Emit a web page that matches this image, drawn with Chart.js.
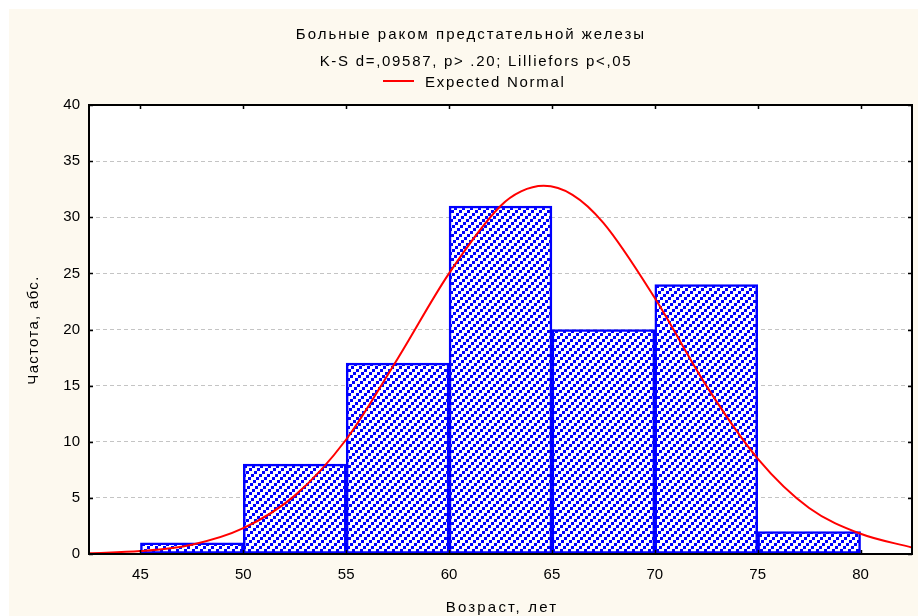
<!DOCTYPE html>
<html><head><meta charset="utf-8">
<script src="https://cdn.jsdelivr.net/npm/chart.js@4"></script>
<style>html,body{margin:0;padding:0;background:#fff}#c{display:block}</style>
</head><body>
<canvas id="c" width="918" height="616"></canvas>
<script>
// ---- data ----
const titleLines = ['Больные раком предстательной железы', 'K-S d=,09587, p> .20; Lilliefors p<,05'];
const legendLabel = 'Expected Normal';
const xTitle = 'Возраст, лет';
const yTitle = 'Частота, абс.';
const binCenters = [47.5, 52.5, 57.5, 62.5, 67.5, 72.5, 77.5];
const counts = [1, 8, 17, 31, 20, 24, 2];
const curveX = [42.5, 45, 47.5, 50, 52.5, 55, 57.5, 60, 62.5, 63.5, 64.6, 66, 67.5, 70, 72.5, 75, 77.5, 80, 82.5];
const curveY = [0.07, 0.26, 0.83, 2.3, 5.2, 10.2, 17.4, 25.0, 31.0, 32.3, 32.8, 32.0, 29.5, 22.8, 15.0, 8.5, 4.1, 1.8, 0.58];
const xTicks = [45, 50, 55, 60, 65, 70, 75, 80];
const yTicks = [0, 5, 10, 15, 20, 25, 30, 35, 40];

const FONT = '"Liberation Sans", Arial, sans-serif';

function makePattern() {
  const N = 24;
  const p = document.createElement('canvas');
  p.width = N; p.height = N;
  const g = p.getContext('2d');
  g.fillStyle = '#ffffff'; g.fillRect(0, 0, N, N);
  g.fillStyle = '#0000ff';
  for (let o = 0; o < N; o += 8) {
    for (let k = 0; k < N / 3; k++) {
      const x = (o + 3 * k) % N;
      const y = ((N - 3 - 3 * k) % N + N) % N;
      g.fillRect(x, y, 3, 3);
      if (x + 3 > N) g.fillRect(x - N, y, 3, 3);
      if (y + 3 > N) g.fillRect(x, y - N, 3, 3);
    }
  }
  return document.getElementById('c').getContext('2d').createPattern(p, 'repeat');
}

const decor = {
  id: 'decor',
  beforeDraw(chart) {
    const ctx = chart.ctx, a = chart.chartArea;
    ctx.save();
    ctx.fillStyle = '#ffffff'; ctx.fillRect(0, 0, chart.width, chart.height);
    ctx.fillStyle = '#fdf9ef'; ctx.fillRect(9, 9, chart.width - 9, chart.height - 9);
    ctx.fillStyle = '#ffffff'; ctx.fillRect(a.left, a.top, a.right - a.left, a.bottom - a.top);
    ctx.restore();
  },
  afterDraw(chart) {
    const ctx = chart.ctx, a = chart.chartArea;
    const xs = chart.scales.x, ys = chart.scales.y;
    ctx.save();
    ctx.strokeStyle = '#000'; ctx.lineWidth = 2;
    ctx.strokeRect(a.left, a.top, a.right - a.left, a.bottom - a.top);
    ctx.lineWidth = 1.5;
    ctx.beginPath();
    yTicks.forEach(v => {
      const y = Math.round(ys.getPixelForValue(v)) + 0.5;
      ctx.moveTo(a.left, y); ctx.lineTo(a.left + 4, y);
      ctx.moveTo(a.right, y); ctx.lineTo(a.right - 4, y);
    });
    xTicks.forEach(v => {
      const x = Math.round(xs.getPixelForValue(v)) + 0.5;
      ctx.moveTo(x, a.top); ctx.lineTo(x, a.top + 4);
      ctx.moveTo(x, a.bottom); ctx.lineTo(x, a.bottom - 4);
    });
    ctx.stroke();
    // titles
    ctx.fillStyle = '#000';
    ctx.textAlign = 'center'; ctx.textBaseline = 'alphabetic';
    ctx.font = '15px ' + FONT;
    ctx.letterSpacing = '2px';
    ctx.fillText(titleLines[0], 471, 39);
    ctx.letterSpacing = '1.7px';
    ctx.fillText(titleLines[1], 476, 66);
    // legend
    ctx.textAlign = 'left';
    ctx.fillText(legendLabel, 425, 87);
    ctx.strokeStyle = '#ff0000'; ctx.lineWidth = 2;
    ctx.beginPath(); ctx.moveTo(383, 81); ctx.lineTo(414, 81); ctx.stroke();
    // axis titles
    ctx.textAlign = 'center';
    ctx.letterSpacing = '2.2px';
    ctx.fillText(xTitle, 502, 612);
    ctx.letterSpacing = '1.3px';
    ctx.translate(38, 330); ctx.rotate(-Math.PI / 2);
    ctx.fillText(yTitle, 0, 0);
    ctx.restore();
  }
};

const pattern = makePattern();

new Chart(document.getElementById('c'), {
  type: 'bar',
  data: {
    datasets: [
      {
        type: 'line', label: legendLabel, order: 0,
        data: curveX.map((x, i) => ({ x, y: curveY[i] })),
        borderColor: '#ff0000', borderWidth: 2, pointRadius: 0,
        cubicInterpolationMode: 'monotone', fill: false
      },
      {
        type: 'bar', label: 'counts', order: 1,
        data: binCenters.map((x, i) => ({ x, y: counts[i] })),
        backgroundColor: pattern, borderColor: '#0000ff', borderWidth: 2.5,
        borderSkipped: false,
        barPercentage: 1, categoryPercentage: 1
      }
    ]
  },
  options: {
    responsive: false, animation: false,
    layout: { padding: { top: 105, right: 6, left: 0, bottom: 0 } },
    plugins: { legend: { display: false }, title: { display: false }, tooltip: { enabled: false } },
    scales: {
      x: {
        type: 'linear', min: 42.5, max: 82.5, offset: false,
        afterBuildTicks: s => { s.ticks = xTicks.map(v => ({ value: v })); },
        afterFit: s => { s.height = 62; },
        grid: { display: false, drawTicks: false, offset: false },
        border: { display: false },
        ticks: { padding: 12, color: '#000', font: { family: FONT, size: 15 }, maxRotation: 0, autoSkip: false }
      },
      y: {
        min: 0, max: 40,
        afterBuildTicks: s => { s.ticks = yTicks.map(v => ({ value: v })); },
        afterFit: s => { s.width = 89; },
        grid: { color: '#c4c4c4', lineWidth: 1, drawTicks: false },
        border: { display: false, dash: [4, 3] },
        ticks: { padding: 9, color: '#000', font: { family: FONT, size: 15 } }
      }
    }
  },
  plugins: [decor]
});
</script>
</body></html>
